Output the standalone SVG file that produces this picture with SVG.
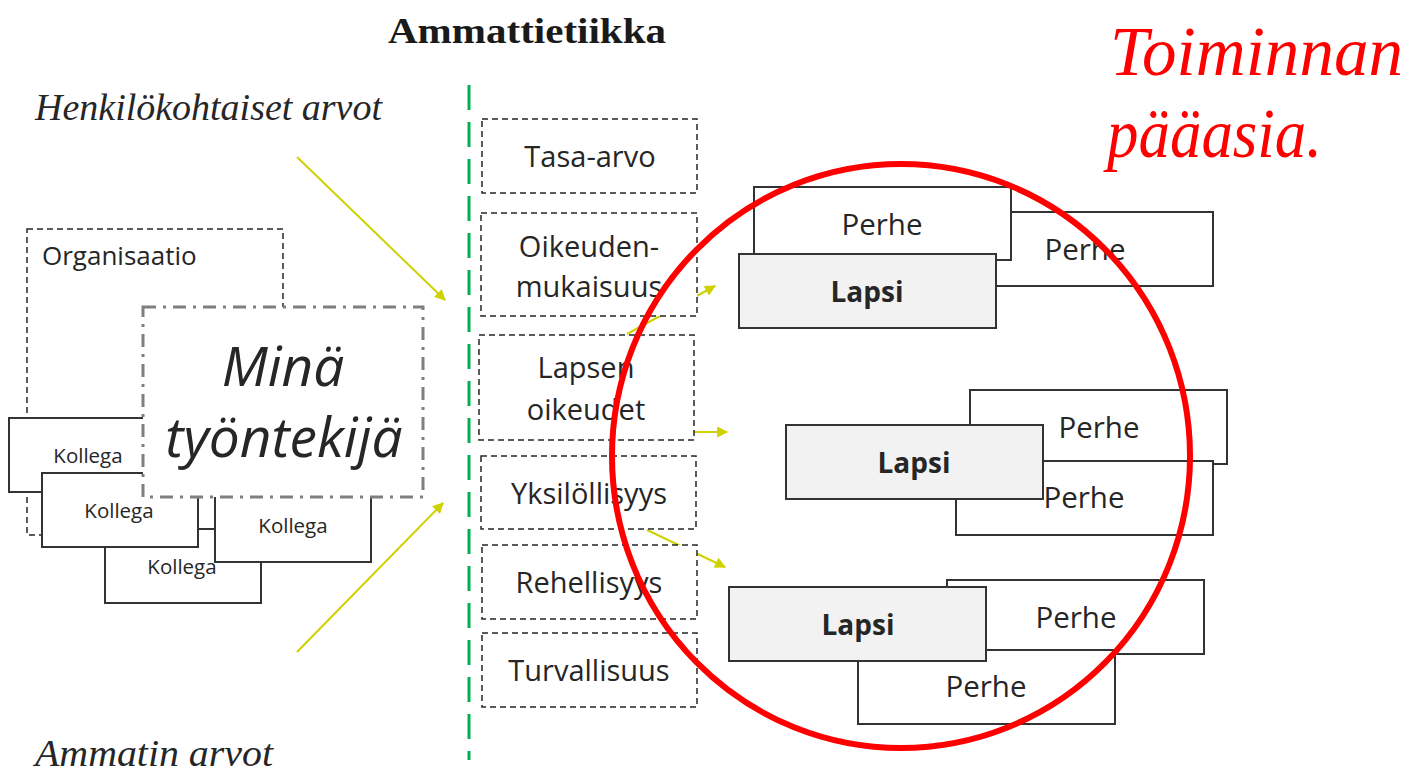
<svg xmlns="http://www.w3.org/2000/svg" width="1426" height="772" viewBox="0 0 1426 772">
<style>
.sans{font-family:"Open Sans","Noto Sans","Liberation Sans",sans-serif;fill:#262626}
.serif{font-family:"Liberation Serif","DejaVu Serif",serif}
.dbox{fill:#fff;stroke:#262626;stroke-width:1.5;stroke-dasharray:6 4}
.sbox{fill:#fff;stroke:#333;stroke-width:2}
.lbox{fill:#f2f2f2;stroke:#333;stroke-width:2}
.val{font-size:29px;text-anchor:middle}
.kol{font-size:20.5px;text-anchor:middle}
.per{font-size:29.5px;text-anchor:middle}
.lap{font-size:28px;font-weight:bold;text-anchor:middle}
.arr{stroke:#cfd200;stroke-width:2;fill:none;marker-end:url(#ah)}
</style>
<defs>
<marker id="ah" viewBox="0 0 10 10" refX="9" refY="5" markerWidth="14" markerHeight="11" markerUnits="userSpaceOnUse" orient="auto">
<path d="M0,0 L10,5 L0,10 z" fill="#cfd200"/>
</marker>
</defs>
<rect width="1426" height="772" fill="#fff"/>

<g id="titles">
<text class="serif" x="388" y="43" font-size="35" font-weight="bold" fill="#1a1a1a" textLength="278" lengthAdjust="spacingAndGlyphs">Ammattietiikka</text>
<text class="serif" x="35" y="120" font-size="37" font-style="italic" fill="#262626" textLength="347" lengthAdjust="spacingAndGlyphs">Henkilökohtaiset arvot</text>
<text class="serif" x="35" y="766" font-size="37" font-style="italic" fill="#262626" textLength="238" lengthAdjust="spacingAndGlyphs">Ammatin arvot</text>
<text class="serif" x="1110" y="75" font-size="70" font-style="italic" fill="#ff0000" textLength="293" lengthAdjust="spacingAndGlyphs">Toiminnan</text>
<text class="serif" x="1107" y="157" font-size="70" font-style="italic" fill="#ff0000" textLength="215" lengthAdjust="spacingAndGlyphs">pääasia.</text>
</g>

<g id="divider">
<line x1="469" y1="85" x2="469" y2="760" stroke="#00b050" stroke-width="3" stroke-dasharray="25 12"/>
</g>

<g id="connectors">
<line class="arr" x1="297" y1="157" x2="445" y2="300"/>
<line class="arr" x1="297" y1="652" x2="443" y2="503"/>
<line class="arr" x1="627" y1="334" x2="715" y2="286"/>
<line class="arr" x1="680" y1="432" x2="727" y2="432"/>
<line class="arr" x1="647" y1="530" x2="725" y2="567"/>
</g>

<g id="organisaatio">
<rect class="dbox" x="27" y="229" width="256" height="306"/>
<text class="sans" x="42" y="265" font-size="26">Organisaatio</text>
</g>
<g id="kollega1">
<rect class="sbox" x="9" y="418" width="158" height="74"/>
<text class="sans kol" x="88" y="463">Kollega</text>
</g>
<g id="kollega4">
<rect class="sbox" x="105" y="529" width="156" height="74"/>
<text class="sans kol" x="182" y="574">Kollega</text>
</g>
<g id="kollega3">
<rect class="sbox" x="215" y="488" width="156" height="74"/>
<text class="sans kol" x="293" y="533">Kollega</text>
</g>
<g id="kollega2">
<rect class="sbox" x="42" y="473" width="156" height="74"/>
<text class="sans kol" x="119" y="518">Kollega</text>
</g>
<g id="mina">
<rect x="143" y="307" width="280" height="190" fill="#fff" stroke="#7f7f7f" stroke-width="3" stroke-dasharray="13 7 3 7"/>
<text class="sans" x="283" y="386" font-size="55" font-style="italic" text-anchor="middle" fill="#1a1a1a">Minä</text>
<text class="sans" x="284" y="457" font-size="55" font-style="italic" text-anchor="middle" fill="#1a1a1a">työntekijä</text>
</g>

<g id="tasa-arvo">
<rect class="dbox" x="482" y="119" width="215" height="74"/>
<text class="sans val" x="590" y="167">Tasa-arvo</text>
</g>
<g id="oikeudenmukaisuus">
<rect class="dbox" x="481" y="213" width="216" height="103"/>
<text class="sans val" x="589" y="257">Oikeuden-</text>
<text class="sans val" x="589" y="297">mukaisuus</text>
</g>
<g id="lapsen-oikeudet">
<rect class="dbox" x="479" y="335" width="215" height="105"/>
<text class="sans val" x="586" y="378">Lapsen</text>
<text class="sans val" x="586" y="420">oikeudet</text>
</g>
<g id="yksilollisyys">
<rect class="dbox" x="481" y="456" width="215" height="73"/>
<text class="sans val" x="589" y="504">Yksilöllisyys</text>
</g>
<g id="rehellisyys">
<rect class="dbox" x="482" y="545" width="215" height="74"/>
<text class="sans val" x="589" y="593">Rehellisyys</text>
</g>
<g id="turvallisuus">
<rect class="dbox" x="482" y="633" width="215" height="74"/>
<text class="sans val" x="589" y="681">Turvallisuus</text>
</g>

<g id="perhe-b">
<rect class="sbox" x="956" y="212" width="257" height="74"/>
<text class="sans per" x="1085" y="260">Perhe</text>
</g>
<g id="perhe-a">
<rect class="sbox" x="754" y="187" width="257" height="73"/>
<text class="sans per" x="882" y="235">Perhe</text>
</g>
<g id="lapsi-1">
<rect class="lbox" x="739" y="254" width="257" height="74"/>
<text class="sans lap" x="867" y="302">Lapsi</text>
</g>

<g id="perhe-c">
<rect class="sbox" x="970" y="390" width="257" height="74"/>
<text class="sans per" x="1099" y="438">Perhe</text>
</g>
<g id="perhe-d">
<rect class="sbox" x="956" y="461" width="257" height="74"/>
<text class="sans per" x="1084" y="508">Perhe</text>
</g>
<g id="lapsi-2">
<rect class="lbox" x="786" y="425" width="257" height="74"/>
<text class="sans lap" x="914" y="473">Lapsi</text>
</g>

<g id="perhe-e">
<rect class="sbox" x="947" y="580" width="257" height="74"/>
<text class="sans per" x="1076" y="628">Perhe</text>
</g>
<g id="perhe-f">
<rect class="sbox" x="858" y="650" width="257" height="74"/>
<text class="sans per" x="986" y="697">Perhe</text>
</g>
<g id="lapsi-3">
<rect class="lbox" x="729" y="587" width="257" height="74"/>
<text class="sans lap" x="858" y="635">Lapsi</text>
</g>

<g id="focus-circle">
<ellipse cx="901" cy="456" rx="289" ry="292" fill="none" stroke="#ff0000" stroke-width="6"/>
</g>
</svg>
